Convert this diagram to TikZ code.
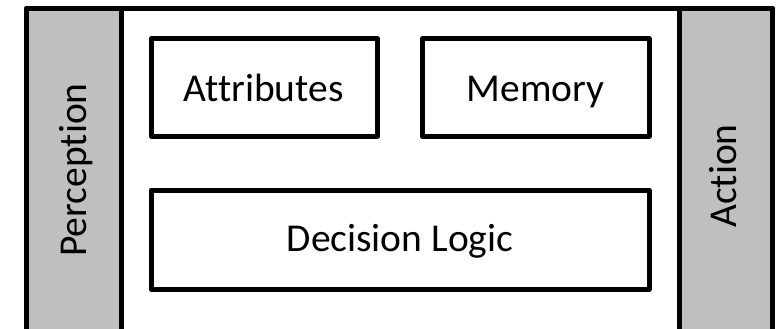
\documentclass[tikz,border=0pt]{standalone}
\usepackage{fontspec}
\setmainfont{Carlito}[Ligatures={NoCommon}]
\definecolor{panelgray}{HTML}{BFBFBF}
\begin{document}
\begin{tikzpicture}[x=1pt,y=-1pt,
  frame/.style={draw=black,line width=5pt,line join=round},
  panel/.style={frame,fill=panelgray},
  lbl/.style={font=\fontsize{39.5}{46}\selectfont,inner sep=0pt,anchor=base}]
\useasboundingbox (0,0) rectangle (780,329);
\begin{scope}
\clip (0,0) rectangle (780,329);
% outer frame with sensor and actuator panels
\draw[frame,fill=white] (26.5,8.5) rectangle (772.5,331.5);
\draw[panel] (26.5,8.5) rectangle (121,331.5);
\draw[panel] (679,8.5) rectangle (772.5,331.5);
\end{scope}
\node[lbl,rotate=90] (perc) at (86.7,170) {Perception};
\node[lbl,rotate=90] (act) at (736.7,176) {Action};
% inner components
\draw[frame] (151,39) rectangle (377.5,136);
\node[lbl] (attr) at (263.5,101.7) {Attributes};
\draw[frame] (422,39) rectangle (649,136);
\node[lbl] (mem) at (535.5,101.7) {Memory};
\draw[frame] (151,190) rectangle (649,289);
\node[lbl] (dec) at (400,251.7) {Decision Logic};
\end{tikzpicture}
\end{document}
